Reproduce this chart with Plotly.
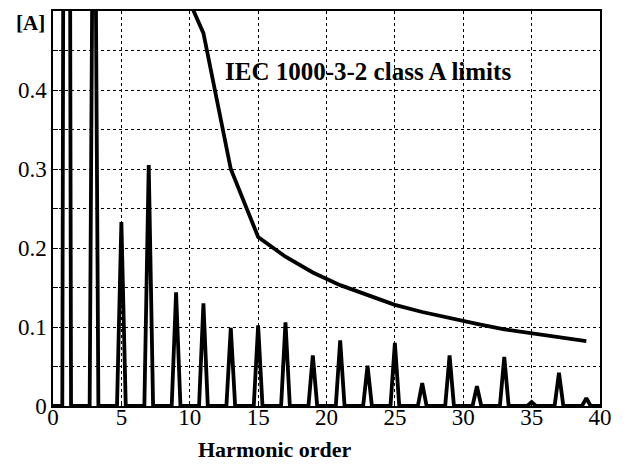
import plotly.graph_objects as go

# ---- data ----
harmonic_orders = [1, 3, 5, 7, 9, 11, 13, 15, 17, 19, 21, 23, 25, 27, 29, 31, 33, 35, 37, 39]
harmonic_amps = [2.5, 0.9, 0.233, 0.305, 0.144, 0.130, 0.099, 0.102, 0.106, 0.064,
                 0.083, 0.051, 0.080, 0.029, 0.064, 0.025, 0.062, 0.005, 0.042, 0.010]

limit_orders = [9, 11, 13, 15, 17, 19, 21, 23, 25, 27, 29, 31, 33, 35, 37, 39]
limit_values = [0.55, 0.472, 0.300, 0.214, 0.189, 0.169, 0.153, 0.140, 0.128,
                0.119, 0.111, 0.104, 0.097, 0.092, 0.087, 0.082]

x_ticks = [0, 5, 10, 15, 20, 25, 30, 35, 40]
y_grid = [0, 0.05, 0.1, 0.15, 0.2, 0.25, 0.3, 0.35, 0.4, 0.45, 0.5]
y_labels = ["0", "", "0.1", "", "0.2", "", "0.3", "", "0.4", "", ""]

HALF_WIDTH = 0.32  # half base width of each spectral line (style)

# build the spectrum trace (triangular spectral lines on a zero baseline)
spec_x, spec_y = [0.0], [0.0]
for h, a in zip(harmonic_orders, harmonic_amps):
    spec_x += [h - HALF_WIDTH, h, h + HALF_WIDTH]
    spec_y += [0.0, a, 0.0]
spec_x.append(40.0)
spec_y.append(0.0)

SERIF = "Liberation Serif"

# page body has an 8px margin, so the figure is drawn 8px smaller
W, H = 620, 465
L, R, T, B = 45, 28, 3, 67
PW, PH = W - L - R, H - T - B

fig = go.Figure()
fig.add_trace(go.Scatter(x=spec_x, y=spec_y, mode="lines",
                         line=dict(color="black", width=3.8), showlegend=False))
fig.add_trace(go.Scatter(x=limit_orders, y=limit_values, mode="lines",
                         line=dict(color="black", width=3.8), showlegend=False))

fig.add_annotation(x=23.0, y=0.423, xref="x", yref="y", text="<b>IEC 1000-3-2 class A limits</b>",
                   showarrow=False, xanchor="center", yanchor="middle",
                   font=dict(family=SERIF, size=25, color="black"))
fig.add_annotation(x=0, y=1, xref="paper", yref="paper", text="<b>[A]</b>",
                   showarrow=False, xanchor="right", yanchor="top", xshift=-6, yshift=2,
                   font=dict(family=SERIF, size=21, color="black"))
fig.add_annotation(x=(275 - 53) / PW, y=(406 - 450) / PH, xref="paper", yref="paper",
                   text="<b>Harmonic order</b>",
                   showarrow=False, xanchor="center", yanchor="middle",
                   font=dict(family=SERIF, size=22, color="black"))

fig.update_layout(
    width=W, height=H,
    margin=dict(l=L, r=R, t=T, b=B, autoexpand=False),
    paper_bgcolor="white", plot_bgcolor="white",
    font=dict(family=SERIF, color="black"),
    showlegend=False,
)
fig.update_xaxes(range=[0, 40], tickvals=x_ticks, ticktext=[str(v) for v in x_ticks],
                 showgrid=True, gridcolor="black", gridwidth=1, griddash="dot",
                 showline=True, linecolor="black", linewidth=1.5, mirror=True,
                 ticks="inside", ticklen=5, tickcolor="black", ticklabelstandoff=-10,
                 zeroline=False, tickfont=dict(family=SERIF, size=23, color="black"))
fig.update_yaxes(range=[0, 0.5], tickvals=y_grid, ticktext=y_labels,
                 showgrid=True, gridcolor="black", gridwidth=1, griddash="dot",
                 showline=True, linecolor="black", linewidth=1.5, mirror=True,
                 ticks="inside", ticklen=5, tickcolor="black",
                 zeroline=False, tickfont=dict(family=SERIF, size=23, color="black"))

fig.write_html("out.html")
